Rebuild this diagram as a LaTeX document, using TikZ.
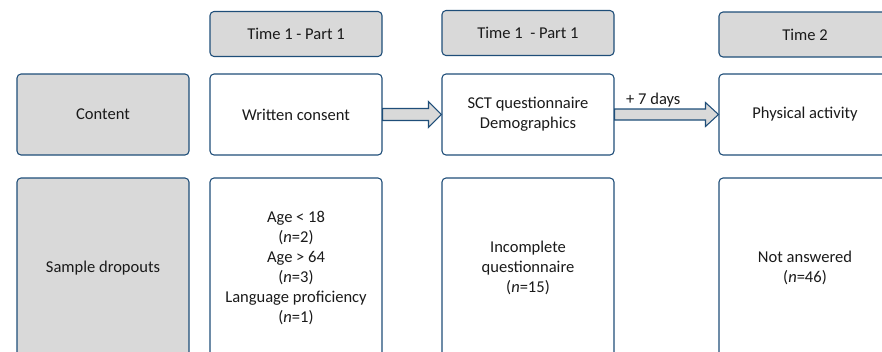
\documentclass[tikz,border=0pt]{standalone}
\usepackage{fontspec}
\setmainfont{Carlito}
\usepackage{xcolor}
\definecolor{flowline}{HTML}{1F4E79}
\definecolor{flowgrey}{HTML}{D9D9D9}
\definecolor{flowtext}{HTML}{1A1A1A}
\usetikzlibrary{calc}

\begin{document}
\begin{tikzpicture}[
  x=0.75pt,
  y=-0.75pt,
  every node/.style={font=\fontsize{12.4pt}{15pt}\selectfont, text=flowtext},
  box/.style={draw=flowline, line width=0.8pt, rounded corners=3pt,
              align=center, minimum width=129pt, inner sep=2pt},
  headbox/.style={box, fill=flowgrey, minimum height=33.75pt},
  rowbox/.style={box, fill=flowgrey},
  stepbox/.style={box, fill=white, minimum height=60.75pt},
  dropbox/.style={box, fill=white, minimum height=135pt},
  blockarrow/.style={draw=flowline, line width=0.8pt, fill=flowgrey}
]
  \useasboundingbox (0,0) rectangle (882,351);
  \clip (0,0) rectangle (882,351);

  % ---- time points ------------------------------------------------------
  \node[headbox] (timeA) at (296,34) {Time 1 - Part 1};
  \node[headbox] (timeB) at (528,33) {Time 1\ \ - Part 1};
  \node[headbox] (timeC) at (805,34.5) {Time 2};

  % ---- content row ------------------------------------------------------
  \node[rowbox, minimum height=60.75pt] (content) at (103,114.5) {Content};
  \node[stepbox] (consent) at (296,114.5) {Written consent};
  \node[stepbox] (sct) at (528,114.5) {SCT questionnaire\\Demographics};
  \node[stepbox] (activity) at (805,114.5) {Physical activity};

  % ---- dropout row ------------------------------------------------------
  \node[rowbox, minimum height=135pt] (dropouts) at (103,268) {Sample dropouts};
  \node[dropbox] (dropA) at (296,268)
    {Age < 18\\(\textit{n}=2)\\Age > 64\\(\textit{n}=3)\\Language proficiency\\(\textit{n}=1)};
  \node[dropbox] (dropB) at (528,268)
    {Incomplete\\questionnaire\\(\textit{n}=15)};
  \node[dropbox] (dropC) at (805,268) {Not answered\\(\textit{n}=46)};

  % ---- block arrows -----------------------------------------------------
  \draw[blockarrow] ($(consent.east)+(0,-6)$) -- ($(sct.west)+(-13,-6)$)
    -- ($(sct.west)+(-13,-13)$) -- (sct.west) -- ($(sct.west)+(-13,13)$)
    -- ($(sct.west)+(-13,6)$) -- ($(consent.east)+(0,6)$) -- cycle;

  \draw[blockarrow] ($(sct.east)+(0,-5.5)$)
    -- node[above, inner sep=1pt, xshift=-5pt] (delay) {+ 7 days}
       ($(activity.west)+(-13,-5.5)$)
    -- ($(activity.west)+(-13,-12)$) -- (activity.west) -- ($(activity.west)+(-13,12)$)
    -- ($(activity.west)+(-13,5.5)$) -- ($(sct.east)+(0,5.5)$) -- cycle;
\end{tikzpicture}
\end{document}
